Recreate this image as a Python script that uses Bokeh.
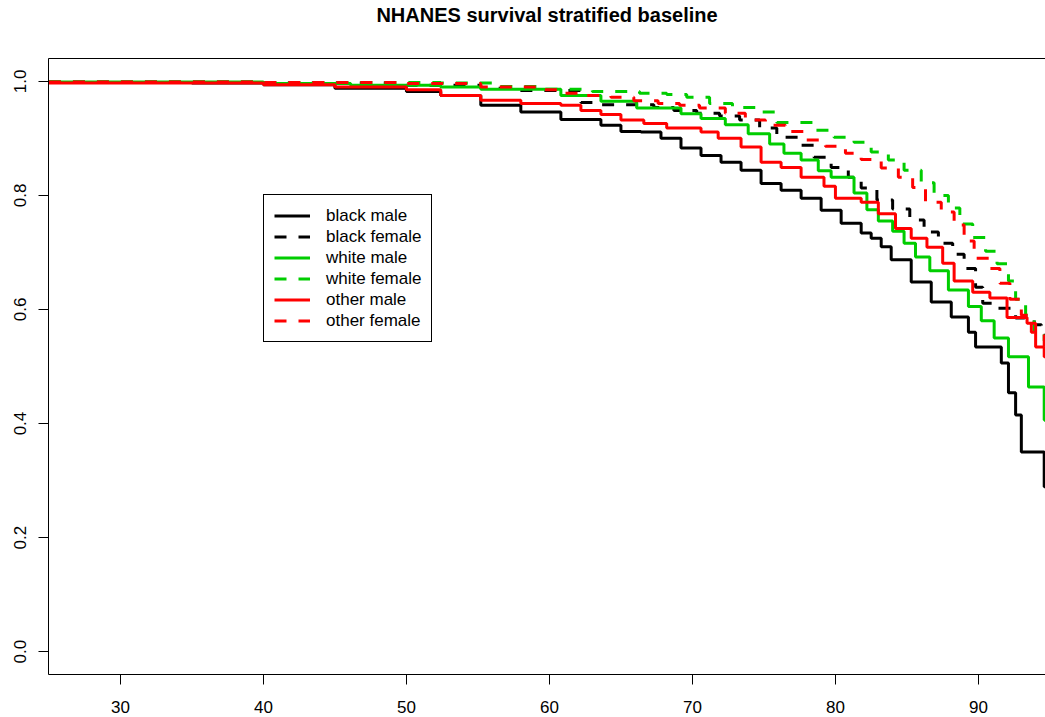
from bokeh.plotting import figure
from bokeh.models import Range1d, LinearAxis, FixedTicker, Legend, LegendItem, NumeralTickFormatter
from bokeh.embed import file_html
from bokeh.resources import INLINE

TITLE = "NHANES survival stratified baseline"
x_ticks = [30, 40, 50, 60, 70, 80, 90]
y_ticks = [0.0, 0.2, 0.4, 0.6, 0.8, 1.0]

series_names = ["black male", "black female", "white male", "white female", "other male", "other female"]

black_male_age = [25, 35, 40, 45, 50, 52.4, 55.2, 58.0, 60.8, 63.6, 65.0, 66.4, 67.8, 69.2, 70.6, 72.0,
                  73.4, 74.8, 76.2, 77.6, 79.0, 80.4, 81.8, 82.5, 83.2, 83.9, 85.3, 86.7, 88.1, 89.3,
                  89.8, 91.6, 92.1, 92.6, 93.0, 94.6, 94.7]
black_male_surv = [0.998, 0.997, 0.994, 0.988, 0.982, 0.975, 0.958, 0.946, 0.933, 0.923, 0.912, 0.911,
                   0.900, 0.883, 0.870, 0.858, 0.844, 0.821, 0.809, 0.795, 0.774, 0.751, 0.734, 0.725,
                   0.710, 0.687, 0.648, 0.613, 0.587, 0.560, 0.534, 0.506, 0.454, 0.415, 0.350, 0.289,
                   0.289]

black_female_age = [25, 40, 50, 55.2, 57.5, 62.2, 63.6, 67.3, 68.7, 70.3, 71.9, 73.3, 74.7, 75.9, 77.6,
                    78.5, 79.7, 80.9, 81.8, 82.9, 84.0, 85.2, 86.2, 87.2, 88.2, 89.0, 89.8, 90.3, 91.2,
                    92.6, 93.9, 94.4, 94.7]
black_female_surv = [0.999, 0.997, 0.993, 0.988, 0.984, 0.963, 0.959, 0.954, 0.949, 0.944, 0.939, 0.932,
                     0.918, 0.902, 0.888, 0.867, 0.849, 0.832, 0.813, 0.792, 0.776, 0.757, 0.736, 0.716,
                     0.697, 0.672, 0.639, 0.611, 0.602, 0.585, 0.573, 0.555, 0.555]

white_male_age = [25, 40, 46.1, 52.4, 55.2, 60.8, 63.6, 66.1, 69.2, 70.6, 72.3, 73.9, 75.4, 76.4, 77.6,
                  78.8, 79.7, 81.3, 82.2, 83.0, 84.0, 84.8, 85.6, 86.6, 87.9, 89.3, 90.2, 91.1, 92.1,
                  93.5, 94.6, 94.7]
white_male_surv = [0.999, 0.996, 0.993, 0.990, 0.986, 0.975, 0.965, 0.953, 0.943, 0.935, 0.924, 0.908,
                   0.890, 0.874, 0.862, 0.843, 0.832, 0.804, 0.775, 0.755, 0.737, 0.716, 0.692, 0.668,
                   0.634, 0.605, 0.580, 0.550, 0.517, 0.464, 0.406, 0.403]

white_female_age = [25, 40, 52.4, 56.0, 59.4, 63.0, 66.3, 68.2, 69.6, 71.2, 72.8, 74.5, 75.9, 78.5, 79.9,
                    81.3, 82.5, 83.7, 84.8, 86.0, 86.9, 87.9, 88.7, 89.6, 90.5, 91.3, 92.1, 92.6, 93.3,
                    93.9, 94.6, 94.7]
white_female_surv = [0.999, 0.998, 0.997, 0.991, 0.986, 0.982, 0.979, 0.977, 0.972, 0.961, 0.954, 0.946,
                     0.928, 0.914, 0.902, 0.893, 0.876, 0.862, 0.844, 0.822, 0.800, 0.778, 0.750, 0.726,
                     0.702, 0.680, 0.650, 0.618, 0.590, 0.559, 0.545, 0.545]

other_male_age = [25, 40, 45, 50, 52.4, 55.2, 58.0, 60.8, 62.2, 63.6, 65.0, 66.6, 68.2, 70.6, 71.8, 73.4,
                  74.8, 76.2, 77.6, 79.2, 80.0, 81.8, 83.0, 84.2, 85.3, 86.4, 87.5, 88.3, 89.6, 90.8,
                  92.0, 93.4, 94.0, 94.6, 94.7]
other_male_surv = [0.997, 0.994, 0.990, 0.985, 0.975, 0.967, 0.961, 0.958, 0.949, 0.942, 0.932, 0.926,
                   0.918, 0.911, 0.900, 0.885, 0.858, 0.849, 0.832, 0.816, 0.795, 0.788, 0.768, 0.742,
                   0.725, 0.709, 0.681, 0.650, 0.630, 0.620, 0.586, 0.576, 0.534, 0.517, 0.517]

other_female_age = [25, 40, 50, 55.2, 59.4, 60.8, 62.4, 64.3, 65.9, 67.6, 69.1, 70.5, 72.3, 73.7, 75.1,
                    76.5, 77.9, 79.3, 80.7, 81.8, 83.2, 84.4, 85.4, 86.3, 87.4, 88.3, 89.0, 89.7, 90.8,
                    91.5, 92.2, 93.0, 93.7, 94.6, 94.7]
other_female_surv = [0.999, 0.998, 0.996, 0.990, 0.985, 0.979, 0.975, 0.972, 0.966, 0.961, 0.958, 0.953,
                     0.944, 0.932, 0.923, 0.912, 0.897, 0.886, 0.874, 0.863, 0.848, 0.832, 0.814, 0.788,
                     0.771, 0.748, 0.720, 0.690, 0.672, 0.646, 0.618, 0.590, 0.560, 0.520, 0.520]

series_ages = [black_male_age, black_female_age, white_male_age, white_female_age, other_male_age, other_female_age]
series_surv = [black_male_surv, black_female_surv, white_male_surv, white_female_surv, other_male_surv, other_female_surv]
series_colors = ["#000000", "#000000", "#00CD00", "#00CD00", "#FF0000", "#FF0000"]
series_dash = ["solid", "12 12", "solid", "12 12", "solid", "12 12"]

FONT = "Liberation Sans"

p = figure(width=1045, height=717, output_backend="svg", toolbar_location=None,
           x_range=Range1d(24.97, 94.69), y_range=Range1d(-0.04, 1.04),
           min_border_left=48, min_border_right=0, min_border_top=0, min_border_bottom=43,
           x_axis_location=None, y_axis_location=None)
p.grid.visible = False
p.outline_line_color = None
p.background_fill_color = "white"
p.border_fill_color = "white"

xaxis = LinearAxis(ticker=FixedTicker(ticks=x_ticks))
yaxis = LinearAxis(ticker=FixedTicker(ticks=y_ticks), formatter=NumeralTickFormatter(format="0.0"))
for ax in (xaxis, yaxis):
    ax.axis_line_color = "black"
    ax.axis_line_width = 1
    ax.major_tick_line_color = "black"
    ax.major_tick_in = 0
    ax.major_tick_out = 10
    ax.minor_tick_line_color = None
    ax.major_label_text_font = FONT
    ax.major_label_text_font_size = "17px"
    ax.major_label_text_color = "black"
xaxis.major_label_standoff = 16
yaxis.major_label_standoff = 12
yaxis.major_label_orientation = "vertical"
p.add_layout(xaxis, "below")
p.add_layout(yaxis, "left")

top = LinearAxis(ticker=FixedTicker(ticks=[]))
top.axis_line_color = "black"
top.major_tick_line_color = None
top.minor_tick_line_color = None
top.major_label_text_font_size = "0px"
top.major_label_standoff = 0
top.axis_label = TITLE
top.axis_label_text_font = FONT
top.axis_label_text_font_size = "20px"
top.axis_label_text_font_style = "bold"
top.axis_label_text_color = "black"
top.axis_label_standoff = 33
p.add_layout(top, "above")

items = []
for name, ages, surv, col, dash in zip(series_names, series_ages, series_surv, series_colors, series_dash):
    r = p.step(x=ages, y=surv, mode="after", line_color=col, line_width=3, line_dash=dash)
    items.append(LegendItem(label=name, renderers=[r]))

legend = Legend(items=items, location=(215, 332), orientation="vertical",
                label_text_font=FONT, label_text_font_size="17px", label_text_color="black",
                label_height=21, glyph_height=21, glyph_width=36, label_standoff=16,
                spacing=0, padding=10, margin=0,
                border_line_color="black", border_line_width=1, border_line_alpha=1.0,
                background_fill_color="white", background_fill_alpha=1.0)
p.add_layout(legend, "center")

open("out.html", "w").write(file_html(p, INLINE))
